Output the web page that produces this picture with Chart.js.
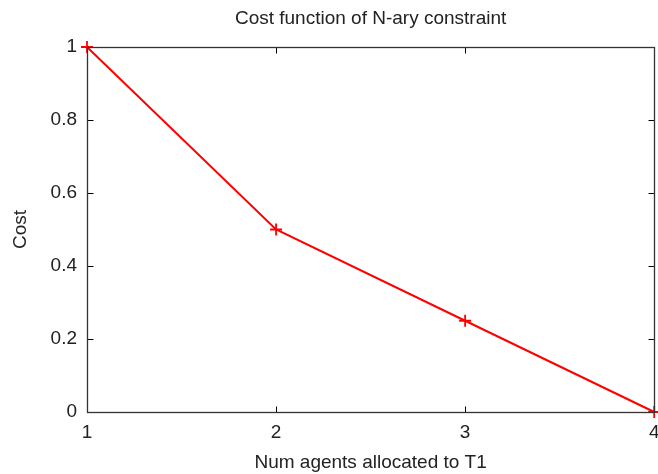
<!DOCTYPE html>
<html>
<head>
<meta charset="utf-8">
<script src="https://cdn.jsdelivr.net/npm/chart.js@4/dist/chart.umd.min.js"></script>
<style>
  html, body { margin: 0; padding: 0; background: #fff; overflow: hidden; }
  #wrap { width: 658px; height: 474px; overflow: hidden; }
</style>
</head>
<body>
<div id="wrap"><canvas id="costChart" width="662" height="474"></canvas></div>
<script>
// data
const agents = [1, 2, 3, 4];
const cost = [1, 0.5, 0.25, 0];
const xTicks = [1, 2, 3, 4];
const yTicks = [0, 0.2, 0.4, 0.6, 0.8, 1];
const chartTitle = 'Cost function of N-ary constraint';

const FONT = "'Liberation Sans', Arial, sans-serif";

// gnuplot-ish frame: box around the plot, inward ticks on all sides, title over plot area
const framePlugin = {
    id: 'frame',
    afterDraw(chart) {
        const ctx = chart.ctx;
        const a = chart.chartArea;
        const xs = chart.scales.x;
        const ys = chart.scales.y;
        ctx.save();
        ctx.strokeStyle = '#000';
        ctx.lineWidth = 1;
        const L = Math.round(a.left) + 0.5, R = Math.round(a.right) + 0.5;
        const T = Math.round(a.top) + 0.5, B = Math.round(a.bottom) + 0.5;
        ctx.beginPath();
        xTicks.forEach(v => {
            const px = Math.round(xs.getPixelForValue(v)) + 0.5;
            ctx.moveTo(px, B); ctx.lineTo(px, B - 6);
            ctx.moveTo(px, T); ctx.lineTo(px, T + 6);
        });
        yTicks.forEach(v => {
            const py = Math.round(ys.getPixelForValue(v)) + 0.5;
            ctx.moveTo(L, py); ctx.lineTo(L + 6, py);
            ctx.moveTo(R, py); ctx.lineTo(R - 6, py);
        });
        ctx.stroke();
        ctx.strokeStyle = '#333';
        ctx.lineWidth = 1.3;
        ctx.strokeRect(L, T, R - L, B - T);

        ctx.fillStyle = '#222';
        ctx.font = '19px ' + FONT;
        ctx.textAlign = 'center';
        ctx.textBaseline = 'middle';
        ctx.fillText(chartTitle, (a.left + a.right) / 2, 19);
        ctx.restore();
    }
};

const ctx = document.getElementById('costChart').getContext('2d');
const chart = new Chart(ctx, {
    type: 'line',
    data: {
        datasets: [{
            data: agents.map((x, i) => ({ x: x, y: cost[i] })),
            borderColor: 'rgb(255, 0, 0)',
            borderWidth: 2,
            pointStyle: 'cross',
            pointRadius: 6,
            pointBorderWidth: 1.8,
            pointBorderColor: 'rgb(255, 0, 0)',
            tension: 0,
            clip: false
        }]
    },
    options: {
        responsive: false,
        animation: false,
        layout: { padding: { top: 47, right: 0, left: 9, bottom: 0 } },
        plugins: {
            legend: { display: false },
            tooltip: { enabled: false }
        },
        scales: {
            x: {
                type: 'linear',
                min: 1,
                max: 4,
                afterBuildTicks(scale) { scale.ticks = xTicks.map(v => ({ value: v })); },
                afterFit(scale) {
                    scale.height = 62;
                    scale.paddingLeft = 0;
                    scale.paddingRight = 0;
                },
                grid: { display: false, drawTicks: false },
                border: { display: false },
                ticks: { color: '#222', padding: 9, font: { family: FONT, size: 19 } },
                title: {
                    display: true,
                    text: 'Num agents allocated to T1',
                    color: '#222',
                    font: { family: FONT, size: 19 },
                    padding: { top: 4, bottom: 0 }
                }
            },
            y: {
                min: 0,
                max: 1,
                afterBuildTicks(scale) { scale.ticks = yTicks.map(v => ({ value: v })); },
                afterFit(scale) {
                    scale.width = 78;
                    scale.paddingTop = 0;
                    scale.paddingBottom = 0;
                },
                grid: { display: false, drawTicks: false },
                border: { display: false },
                ticks: {
                    color: '#222',
                    padding: 10,
                    font: { family: FONT, size: 19 },
                    callback: v => String(Number(v.toFixed(1)))
                },
                title: {
                    display: true,
                    text: 'Cost',
                    color: '#222',
                    font: { family: FONT, size: 19 },
                    padding: { top: 0, bottom: 0 }
                }
            }
        }
    },
    plugins: [framePlugin]
});
</script>
</body>
</html>
